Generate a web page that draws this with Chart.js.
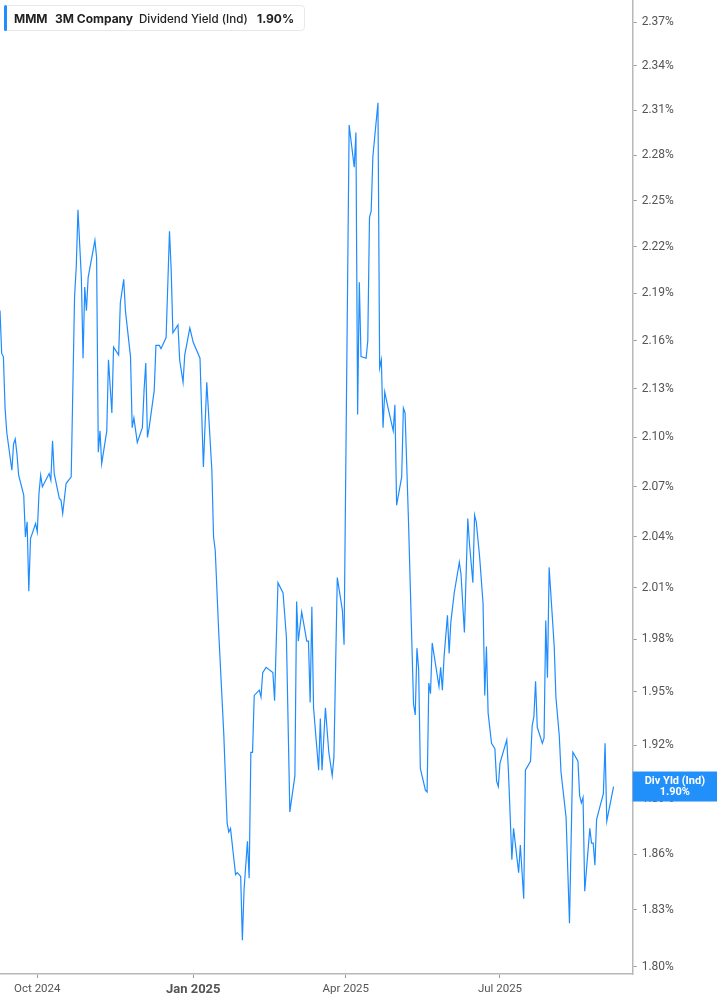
<!DOCTYPE html>
<html>
<head>
<meta charset="utf-8">
<title>MMM Dividend Yield</title>
<script src="https://cdn.jsdelivr.net/npm/chart.js@4.4.1/dist/chart.umd.min.js"></script>
<style>
  html, body { margin: 0; padding: 0; background: #fff; }
  #wrap { position: relative; width: 717px; height: 1005px; }
  #legend {
    position: absolute; left: 4px; top: 5px; width: 301px; height: 26px;
    box-sizing: border-box; border: 1px solid #e8e8e8; border-radius: 4px; background: #fff;
    font-family: Inter, "Noto Sans", sans-serif; font-size: 12px; font-weight: 700; color: #222;
  }
  #legend .bar { position: absolute; left: -1px; top: -1px; width: 3px; height: 26px; background: #1f8fff; border-radius: 2px; }
  #legend span { position: absolute; top: 5px; white-space: nowrap; }
</style>
</head>
<body>
<div id="wrap">
  <canvas id="chart" width="717" height="1005"></canvas>
  <div id="legend">
    <div class="bar"></div>
    <span style="left:9px">MMM</span>
    <span style="left:50px">3M Company</span>
    <span style="left:134px;font-weight:500;font-size:11.6px;top:5.5px">Dividend Yield (Ind)</span>
    <span style="left:252px">1.90%</span>
  </div>
</div>
<script>
// 日数は 2024-09-01 からの経過日
const days = [
  8, 9, 10, 11, 12, 15, 16, 17, 18, 19, 22, 23, 24, 25, 26, 29, 30, 31, 32, 33,
  37, 38, 39, 40, 43, 44, 45, 47, 50, 52, 53, 54, 56, 57, 58, 59, 60, 64, 65, 66,
  67, 68, 71, 72, 74, 75, 78, 79, 81, 82, 85, 86, 87, 89, 92, 93, 94, 95, 96, 99,
  100, 102, 103, 106, 108, 109, 110, 113, 114, 116, 117, 120, 122, 126, 127, 128, 130, 133, 134, 135,
  137, 140, 142, 143, 144, 147, 148, 150, 151, 152, 154, 155, 156, 157, 158, 161, 162, 163, 165, 169,
  170, 172, 175, 177, 179, 182, 183, 184, 186, 189, 190, 191, 192, 193, 196, 197, 198, 200, 202, 204,
  205, 207, 210, 211, 214, 217, 218, 219, 220, 221, 224, 225, 226, 227, 228, 231, 232, 233, 234, 235,
  237, 240, 241, 242, 245, 246, 247, 249, 252, 253, 254, 255, 256, 259, 260, 261, 262, 263, 267, 268,
  269, 270, 272, 273, 274, 276, 279, 280, 282, 284, 285, 287, 288, 289, 291, 293, 294, 295, 296, 298,
  300, 301, 302, 303, 307, 308, 310, 311, 314, 315, 317, 318, 321, 322, 323, 324, 325, 328, 329, 330,
  331, 332, 335, 336, 338, 339, 342, 344, 346, 349, 350, 351, 352, 353, 356, 357, 358, 359, 360, 364,
  365, 366, 370
];

// 配当利回り (%)
const yieldPct = [
  2.179, 2.152, 2.150, 2.118, 2.103, 2.080, 2.096, 2.099, 2.090, 2.077, 2.065, 2.040, 2.049, 2.008, 2.039, 2.048, 2.043, 2.066, 2.077, 2.070,
  2.078, 2.074, 2.098, 2.078, 2.063, 2.062, 2.054, 2.072, 2.076, 2.188, 2.207, 2.244, 2.200, 2.149, 2.194, 2.179, 2.200, 2.224, 2.213, 2.091,
  2.104, 2.084, 2.104, 2.148, 2.115, 2.156, 2.151, 2.184, 2.199, 2.179, 2.150, 2.106, 2.112, 2.097, 2.106, 2.129, 2.146, 2.100, 2.106, 2.129,
  2.157, 2.157, 2.155, 2.162, 2.230, 2.205, 2.165, 2.170, 2.148, 2.134, 2.151, 2.168, 2.159, 2.149, 2.115, 2.082, 2.134, 2.080, 2.040, 2.032,
  1.985, 1.927, 1.877, 1.872, 1.874, 1.849, 1.850, 1.848, 1.814, 1.841, 1.867, 1.847, 1.916, 1.916, 1.948, 1.951, 1.947, 1.961, 1.964, 1.961,
  1.945, 2.013, 2.007, 1.981, 1.883, 1.903, 2.002, 1.979, 1.996, 1.979, 1.979, 1.944, 1.999, 1.941, 1.906, 1.935, 1.906, 1.941, 1.916, 1.903,
  1.913, 2.016, 1.997, 1.977, 2.300, 2.272, 2.295, 2.114, 2.197, 2.150, 2.149, 2.160, 2.239, 2.243, 2.279, 2.315, 2.143, 2.148, 2.106, 2.128,
  2.118, 2.104, 2.120, 2.059, 2.076, 2.118, 2.115, 2.050, 1.943, 1.937, 1.975, 1.963, 1.907, 1.895, 1.894, 1.955, 1.949, 1.978, 1.953, 1.964,
  1.951, 1.970, 1.994, 1.972, 1.990, 2.007, 2.025, 2.018, 1.984, 2.051, 2.036, 2.013, 2.053, 2.049, 2.028, 2.001, 1.948, 1.976, 1.938, 1.921,
  1.918, 1.900, 1.897, 1.910, 1.923, 1.905, 1.857, 1.874, 1.850, 1.865, 1.836, 1.906, 1.911, 1.931, 1.936, 1.956, 1.930, 1.921, 1.924, 1.991,
  1.958, 2.022, 1.976, 1.947, 1.925, 1.905, 1.880, 1.823, 1.916, 1.911, 1.892, 1.888, 1.891, 1.840, 1.874, 1.866, 1.866, 1.854, 1.879, 1.893,
  1.921, 1.878, 1.897
];

const yTicks = [1.80, 1.83, 1.86, 1.89, 1.92, 1.95, 1.98, 2.01, 2.04, 2.07, 2.10, 2.13, 2.16, 2.19, 2.22, 2.25, 2.28, 2.31, 2.34, 2.37];
const xTickDays = [30, 122, 212, 303];
const xTickLabels = ['Oct 2024', 'Jan 2025', 'Apr 2025', 'Jul 2025'];
const seriesName = 'Div Yld (Ind)';

const lineBlue = 'rgb(30,140,255)';

// 右端の最新値ラベル
const lastValueBox = {
  id: 'lastValueBox',
  afterDraw(chart) {
    const { ctx, chartArea, scales } = chart;
    const v = yieldPct[yieldPct.length - 1];
    const y = scales.y.getPixelForValue(v);
    const left = chartArea.right;
    const w = chart.width - left;
    ctx.save();
    ctx.fillStyle = '#2190fb';
    ctx.fillRect(left, y - 15, w, 30);
    ctx.fillStyle = '#fff';
    ctx.font = 'bold 11px Roboto, sans-serif';
    ctx.textAlign = 'center';
    ctx.textBaseline = 'middle';
    ctx.fillText(seriesName, left + w / 2, y - 5.5);
    ctx.fillText(v.toFixed(2) + '%', left + w / 2, y + 5.5);
    ctx.restore();
  }
};

const ctx = document.getElementById('chart').getContext('2d');
new Chart(ctx, {
  type: 'line',
  data: {
    datasets: [{
      label: seriesName,
      data: days.map((d, i) => ({ x: d, y: yieldPct[i] })),
      borderColor: lineBlue,
      borderWidth: 1.2,
      pointRadius: 0,
      tension: 0,
      fill: false
    }]
  },
  options: {
    responsive: false,
    animation: false,
    layout: { padding: 0 },
    plugins: {
      legend: { display: false },
      tooltip: { enabled: false }
    },
    scales: {
      x: {
        type: 'linear',
        min: 8,
        max: 381.3,
        afterBuildTicks: s => { s.ticks = xTickDays.map(v => ({ value: v })); },
        afterFit: s => { s.height = 31; },
        grid: { drawOnChartArea: false, drawTicks: true, tickLength: 4, color: '#9a9a9a' },
        border: { color: '#b8b8b8', width: 1.5 },
        ticks: {
          autoSkip: false,
          maxRotation: 0,
          padding: 4,
          color: '#555',
          font: c => (c.tick && c.tick.value === 122)
            ? { family: 'Roboto', size: 13, weight: 'bold' }
            : { family: 'Roboto', size: 11.5 },
          callback: v => xTickLabels[xTickDays.indexOf(v)]
        }
      },
      y: {
        type: 'logarithmic',
        position: 'right',
        min: 1.7962,
        max: 2.3853,
        afterBuildTicks: s => { s.ticks = yTicks.map(v => ({ value: v })); },
        afterFit: s => {
          s.width = 84.3;
          s.paddingTop = 0;
          s.paddingBottom = 0;
        },
        grid: { drawOnChartArea: false, drawTicks: true, tickLength: 4, color: '#9a9a9a' },
        border: { color: '#b8b8b8', width: 1.5 },
        ticks: {
          padding: 5,
          color: '#555',
          font: { family: 'Roboto', size: 12 },
          callback: v => Number(v).toFixed(2) + '%'
        }
      }
    }
  },
  plugins: [lastValueBox]
});
</script>
</body>
</html>
